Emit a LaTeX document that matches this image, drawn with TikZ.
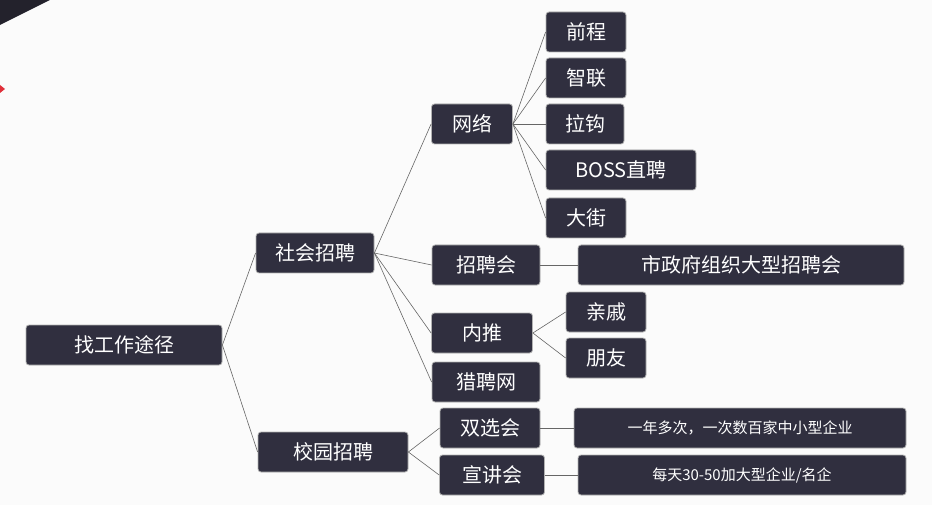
\documentclass[tikz,border=0pt]{standalone}
\usepackage{fontspec}
\setmainfont{Noto Sans CJK SC}
\usetikzlibrary{positioning}
\definecolor{boxfill}{HTML}{302F3F}
\definecolor{topdark}{HTML}{23222C}
\definecolor{markred}{HTML}{E0303A}
\tikzset{
    x=1pt, y=-1pt,
    box/.style={ % dark rounded boxes
        draw=gray!60, line width=0.8pt,
        fill=boxfill,
        text=white,
        rounded corners=3pt,
        minimum height=40pt,
        inner sep=2pt,
        font=\fontsize{20}{22}\selectfont
    },
    smallbox/.style={box, font=\fontsize{15}{17}\selectfont},
    link/.style={gray!80!black, line width=0.6pt},
}
\begin{document}
\begin{tikzpicture}
            \fill[white!97!gray] (0,0) rectangle (932,505);
            \useasboundingbox (0,0) rectangle (932,505);
            \fill[topdark] (0,0) -- (50,0) -- (0,25) -- cycle;
            \fill[markred] (0,85) -- (5,89) -- (0,93) -- cycle;
            % nodes
            \node[box, minimum width=196pt]           (root)   at (124,345) {找工作途径};
            \node[box, minimum width=118pt]           (social) at (315,253) {社会招聘};
            \node[box, minimum width=150pt]           (campus) at (333,452) {校园招聘};
            \node[box, minimum width=81pt]            (net)    at (472,124) {网络};
            \node[box, minimum width=108pt]           (fair)   at (486,265) {招聘会};
            \node[box, minimum width=101pt]           (refer)  at (482,333) {内推};
            \node[box, minimum width=108pt]           (hunt)   at (486,382) {猎聘网};
            \node[box, minimum width=80pt]            (qc)     at (586,32)  {前程};
            \node[box, minimum width=80pt]            (zl)     at (586,78)  {智联};
            \node[box, minimum width=78pt]            (lg)     at (585,124) {拉钩};
            \node[box, minimum width=150pt]           (boss)   at (621,170) {BOSS直聘};
            \node[box, minimum width=80pt]            (dj)     at (586,218) {大街};
            \node[box, minimum width=326pt]           (city)   at (741,265) {市政府组织大型招聘会};
            \node[box, minimum width=80pt]            (kin)    at (606,312) {亲戚};
            \node[box, minimum width=80pt]            (friend) at (606,358) {朋友};
            \node[box, minimum width=100pt]           (dual)   at (490,428) {双选会};
            \node[box, minimum width=105pt]           (talk)   at (492,475) {宣讲会};
            \node[smallbox, minimum width=332pt]      (often)  at (740,428) {一年多次，一次数百家中小型企业};
            \node[smallbox, minimum width=328pt]      (daily)  at (742,475) {每天30-50加大型企业/名企};
            % connectors
            \foreach \a/\b in {root/social, root/campus,
                    social/net, social/fair, social/refer, social/hunt,
                    net/qc, net/zl, net/lg, net/boss, net/dj,
                    fair/city, refer/kin, refer/friend,
                    campus/dual, campus/talk, dual/often, talk/daily}
                \draw[link] (\a.east) -- (\b.west);
        \end{tikzpicture}
\end{document}
